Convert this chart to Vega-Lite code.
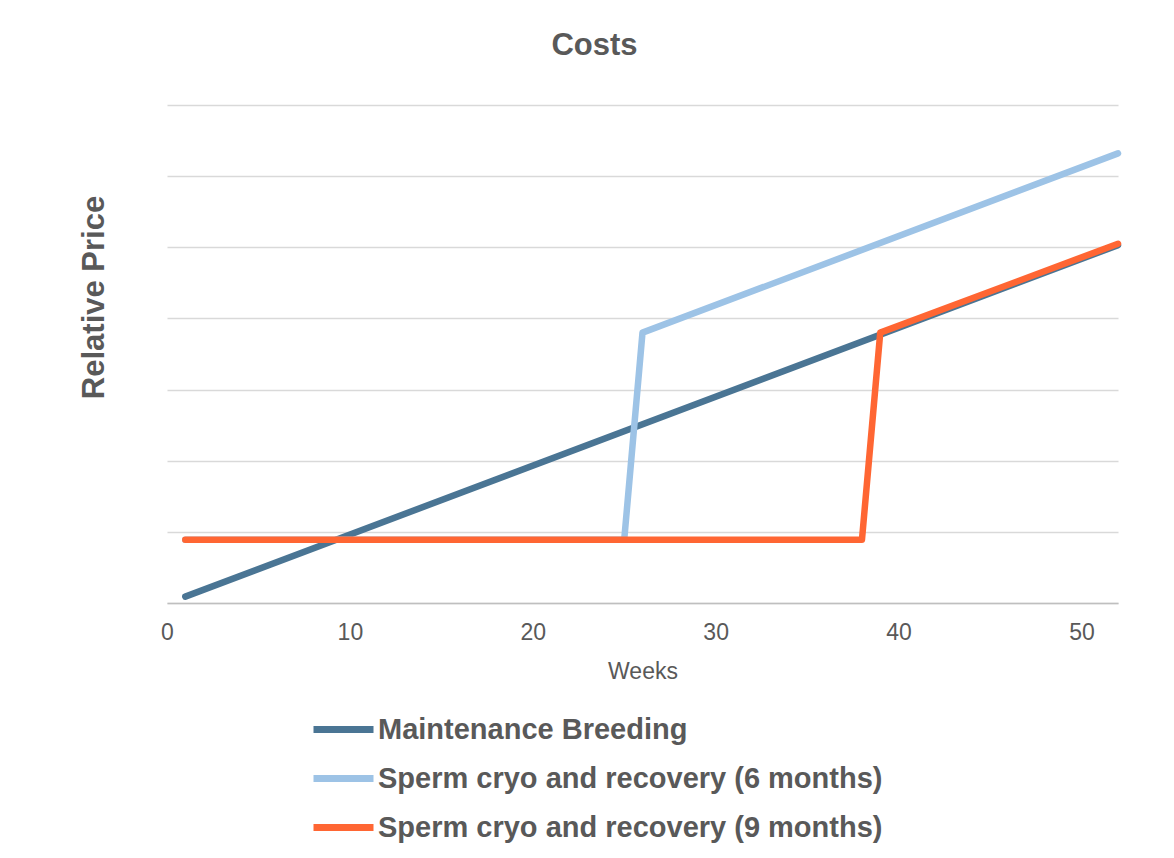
{
  "$schema": "https://vega.github.io/schema/vega-lite/v6.json",
  "width": 951,
  "height": 498,
  "autosize": {"type": "none"},
  "padding": {"left": 167, "top": 105, "right": 56, "bottom": 255},
  "background": "white",
  "title": {
    "text": "Costs",
    "font": "Liberation Sans",
    "fontSize": 31,
    "fontWeight": "bold",
    "color": "#595959",
    "anchor": "middle",
    "dx": -48,
    "baseline": "alphabetic",
    "offset": 19
  },
  "data": {
    "values": [
      {"series": "Maintenance Breeding", "week": 1, "price": 0.09},
      {"series": "Maintenance Breeding", "week": 52, "price": 5.03},
      {"series": "Sperm cryo and recovery (6 months)", "week": 1, "price": 0.89},
      {"series": "Sperm cryo and recovery (6 months)", "week": 25, "price": 0.89},
      {"series": "Sperm cryo and recovery (6 months)", "week": 26, "price": 3.8},
      {"series": "Sperm cryo and recovery (6 months)", "week": 52, "price": 6.32},
      {"series": "Sperm cryo and recovery (9 months)", "week": 1, "price": 0.89},
      {"series": "Sperm cryo and recovery (9 months)", "week": 38, "price": 0.89},
      {"series": "Sperm cryo and recovery (9 months)", "week": 39, "price": 3.8},
      {"series": "Sperm cryo and recovery (9 months)", "week": 52, "price": 5.05}
    ]
  },
  "mark": {"type": "line", "strokeWidth": 6.5, "strokeCap": "round", "strokeJoin": "round"},
  "encoding": {
    "x": {
      "field": "week",
      "type": "quantitative",
      "scale": {"domain": [0, 52], "nice": false, "zero": false},
      "axis": {
        "title": "Weeks",
        "values": [0, 10, 20, 30, 40, 50],
        "grid": false,
        "ticks": false,
        "domain": true,
        "domainColor": "#BFBFBF",
        "domainWidth": 1.5,
        "labelFont": "Liberation Sans",
        "labelFontSize": 23,
        "labelColor": "#595959",
        "labelPadding": 18,
        "labelFlush": false,
        "titleFont": "Liberation Sans",
        "titleFontSize": 23,
        "titleFontWeight": "normal",
        "titleColor": "#595959",
        "titleBaseline": "alphabetic",
        "titleY": 75
      }
    },
    "y": {
      "field": "price",
      "type": "quantitative",
      "scale": {"domain": [0, 7], "nice": false},
      "axis": {
        "title": "Relative Price",
        "values": [0, 1, 2, 3, 4, 5, 6, 7],
        "labels": false,
        "ticks": false,
        "domain": false,
        "grid": true,
        "gridColor": "#D9D9D9",
        "gridWidth": 1.5,
        "titleFont": "Liberation Sans",
        "titleFontSize": 31,
        "titleFontWeight": "bold",
        "titleColor": "#595959",
        "titleBaseline": "alphabetic",
        "titleAngle": 270,
        "titleX": -64,
        "titleY": 192,
        "titleAlign": "center"
      }
    },
    "color": {
      "field": "series",
      "type": "nominal",
      "sort": ["Maintenance Breeding", "Sperm cryo and recovery (6 months)", "Sperm cryo and recovery (9 months)"],
      "scale": {
        "domain": ["Maintenance Breeding", "Sperm cryo and recovery (6 months)", "Sperm cryo and recovery (9 months)"],
        "range": ["#4A7594", "#9DC3E6", "#FF6633"]
      },
      "legend": {
        "title": null,
        "orient": "none",
        "legendX": 143,
        "legendY": 591,
        "direction": "vertical",
        "symbolType": "stroke",
        "symbolSize": 3600,
        "symbolStrokeWidth": 7,
        "labelFont": "Liberation Sans",
        "labelFontSize": 29,
        "labelFontWeight": "bold",
        "labelColor": "#595959",
        "labelOffset": 1,
        "labelLimit": 0,
        "rowPadding": 0,
        "padding": 0
      }
    }
  },
  "config": {
    "view": {"stroke": null}
  }
}
